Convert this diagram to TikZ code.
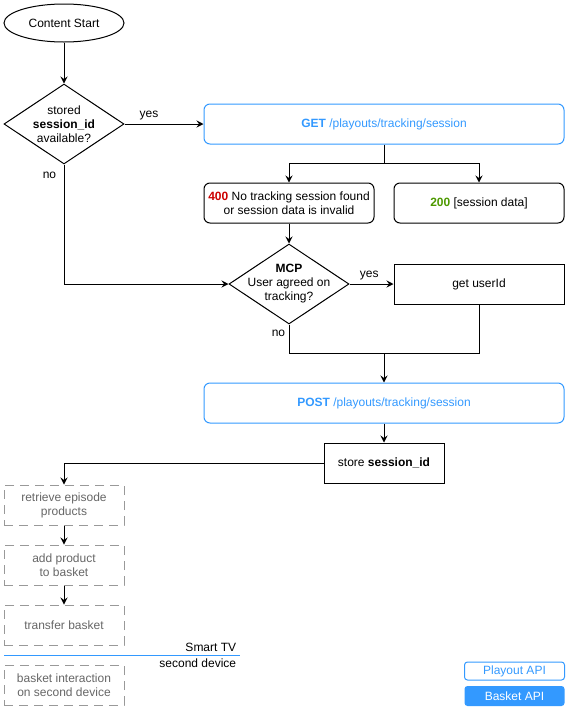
\documentclass[tikz,border=0pt]{standalone}
\usepackage{fontspec}
\setmainfont{Liberation Sans}
\usetikzlibrary{shapes.geometric,arrows.meta}
\definecolor{apiblue}{HTML}{3399FF}
\definecolor{codered}{HTML}{CC0000}
\definecolor{codegreen}{HTML}{4D9900}
\definecolor{tvgrey}{HTML}{666666}
\definecolor{tvline}{HTML}{999999}
\tikzset{
	start/.style={ellipse,draw,minimum width=120pt,minimum height=38pt,inner sep=0pt},
	decision/.style={diamond,draw,minimum width=120pt,minimum height=80pt,inner sep=0pt,label={[align=center]center:{#1}}},
	api/.style={draw=apiblue,text=apiblue,rounded corners=6pt,minimum width=360pt,minimum height=40pt,inner sep=0pt},
	answer/.style={draw,rounded corners=6pt,minimum width=170pt,minimum height=40pt,inner sep=0pt,align=center},
	process/.style={draw,minimum width=120pt,minimum height=40pt,inner sep=0pt},
	tvstep/.style={draw=tvline,dash pattern=on 9pt off 6pt,text=tvgrey,minimum width=120pt,minimum height=40pt,inner sep=0pt,align=center},
	legend/.style={rounded corners=3pt,minimum width=100pt,inner sep=0pt},
	flow/.style={-{Stealth[length=7pt,width=7pt,inset=2.5pt]}}
}
\begin{document}
\begin{tikzpicture}[x=1pt,y=-1pt,line width=1pt,font=\fontsize{12}{14}\selectfont]
	\useasboundingbox (0,0) rectangle (568,710);
	
	\node [start] (start) at (64,23) {Content Start};
	\node [decision={stored\\\textbf{session\_id}\\available?}] (stored) at (64,124) {};
	\node [api] (get) at (384,124) {\textbf{GET} /playouts/tracking/session};
	\coordinate (split) at (384,163);
	\node [answer] (fail) at (289,203) {\textcolor{codered}{\textbf{400}} No tracking session found\\or session data is invalid};
	\node [answer] (found) at (479,203) {\textcolor{codegreen}{\textbf{200}} [session data]};
	\node [decision={\textbf{MCP}\\User agreed on\\tracking?}] (mcp) at (289,284) {};
	\node [process,minimum width=170pt] (userid) at (479,284) {get userId};
	\coordinate (merge) at (384,353);
	\node [api] (post) at (384,403) {\textbf{POST} /playouts/tracking/session};
	\node [process] (store) at (384,463) {store \textbf{session\_id}};
	
	\node [tvstep] (fetch) at (64,505) {retrieve episode\\products};
	\node [tvstep] (add) at (64,565) {add product\\to basket};
	\node [tvstep] (transfer) at (64,625) {transfer basket};
	\node [tvstep] (second) at (64,685) {basket interaction\\on second device};
	\coordinate (tvleft) at (4,655);
	\coordinate (tvright) at (240,655);
	
	\node [legend,draw=apiblue,text=apiblue,minimum height=18pt] (playout) at (514.5,671) {Playout API};
	\node [legend,fill=apiblue,text=white,minimum height=20pt] (basket) at (514.5,696) {Basket API};
	
	\draw [flow] (start) -- (stored);
	\draw [flow] (stored) -- node [pos=0.31,above] {yes} (get);
	\draw [flow] (stored) |- node [pos=0.045,left=4pt] {no} (mcp);
	\draw (get) -- (split);
	\draw [flow] (split) -| (fail);
	\draw [flow] (split) -| (found);
	\draw [flow] (fail) -- (mcp);
	\draw [flow] (mcp) -- node [pos=0.45,above] {yes} (userid);
	\draw (userid) |- (merge);
	\draw (mcp) |- node [pos=0.15,left=0pt] {no} (merge);
	\draw [flow] (merge) -- (post);
	\draw [flow] (post) -- (store);
	\draw [flow] (store) -| (fetch);
	\draw [flow] (fetch) -- (add);
	\draw [flow] (add) -- (transfer);
	\draw [apiblue] (tvleft) -- (tvright) node [above left,text=black] {Smart TV} node [below left,text=black] {second device};
\end{tikzpicture}
\end{document}
